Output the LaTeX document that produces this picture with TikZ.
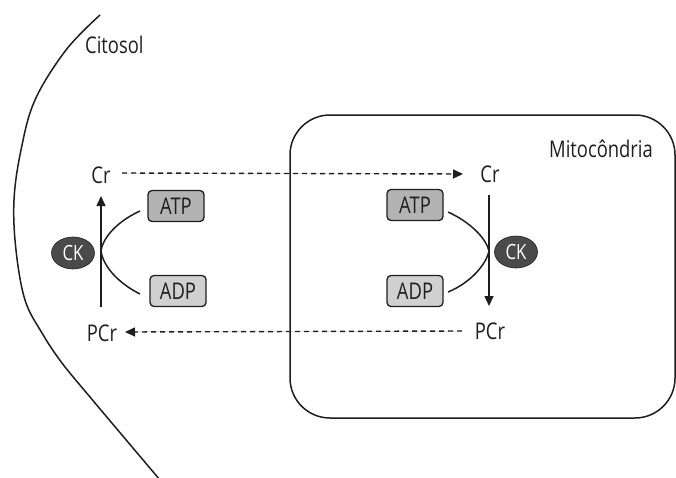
\documentclass[tikz,border=0pt]{standalone}
\usepackage{fontspec}
\setmainfont[FakeStretch=0.8]{Open Sans}
\usetikzlibrary{arrows.meta,shapes.geometric}
\definecolor{ink}{HTML}{1E1E1E}
\definecolor{atpfill}{HTML}{B3B3B3}
\definecolor{adpfill}{HTML}{D0D0D0}
\definecolor{ckfill}{HTML}{4A4A4A}
\begin{document}
\begin{tikzpicture}[x=1pt,y=-1pt,
  lbl/.style={font=\fontsize{23}{26}\selectfont, text=ink, inner sep=0pt},
  ebox/.style={draw=ink, line width=1.3pt, rounded corners=4pt, minimum width=56pt, minimum height=31pt, inner sep=0pt, font=\fontsize{23}{26}\selectfont, text=ink},
  ck/.style={ellipse, fill=ckfill, draw=ink, line width=0.6pt, text=white, minimum width=43pt, minimum height=32pt, inner sep=0pt, font=\fontsize{21}{24}\selectfont},
  line/.style={draw=ink, line width=1.5pt},
  tip/.style={-{Triangle[length=10pt,width=9pt]}},
  dline/.style={line, line width=1.4pt, dash pattern=on 5pt off 4pt}
]
\useasboundingbox (0,0) rectangle (676,477);
\begin{scope}
\clip (0,0) rectangle (676,477);
% cytosol membrane
\draw[line] plot[smooth, tension=0.6] coordinates {(100,15) (66,50) (35,100) (21,150) (14,200) (16,250) (25,300) (42,333) (62,363) (90,397) (122,435) (160,480)};
\end{scope}
\node[lbl, anchor=west] (cit) at (85,45) {Citosol};
% mitochondrion
\draw[line] [rounded corners=40pt] (290,115) rectangle (675,418);
\node[lbl] (mito) at (601,149) {Mitocôndria};

% left cycle
\node[lbl] (crL) at (101,175) {Cr};
\node[lbl] (pcrL) at (102,333) {PCr};
\node[ebox, fill=atpfill] (atpL) at (176,206) {ATP};
\node[ebox, fill=adpfill] (adpL) at (178,291) {ADP};
\node[ck] (ckL) at (73,253) {CK};
\coordinate (aLb) at (101,307);
\coordinate (aLt) at (101,196);
\coordinate (tL) at (101,251);
\coordinate (atpLe) at (140,211);
\coordinate (adpLe) at (140,294);
\draw[line, tip, fill=ink] (aLb) -- (aLt);
\draw[line] (atpLe) .. controls (118,221) and (103,237) .. (tL) .. controls (103,266) and (118,283) .. (adpLe);

% right cycle
\node[lbl] (crR) at (490,174) {Cr};
\node[lbl] (pcrR) at (490,331) {PCr};
\node[ebox, fill=atpfill] (atpR) at (415,205) {ATP};
\node[ebox, fill=adpfill] (adpR) at (415,291) {ADP};
\node[ck] (ckR) at (516,252) {CK};
\coordinate (aRt) at (489,195);
\coordinate (aRb) at (489,306);
\coordinate (tR) at (489,251);
\coordinate (atpRe) at (448,212);
\coordinate (adpRe) at (448,292);
\draw[line, tip, fill=ink] (aRt) -- (aRb);
\draw[line] (atpRe) .. controls (470,222) and (486,238) .. (tR) .. controls (486,265) and (470,283) .. (adpRe);

% transport
\coordinate (dTs) at (122,173);
\coordinate (dTe) at (463,174);
\coordinate (dBs) at (462,331);
\coordinate (dBe) at (125,332);
\draw[dline, tip, fill=ink] (dTs) -- (dTe);
\draw[dline, tip, fill=ink] (dBs) -- (dBe);
\end{tikzpicture}
\end{document}
